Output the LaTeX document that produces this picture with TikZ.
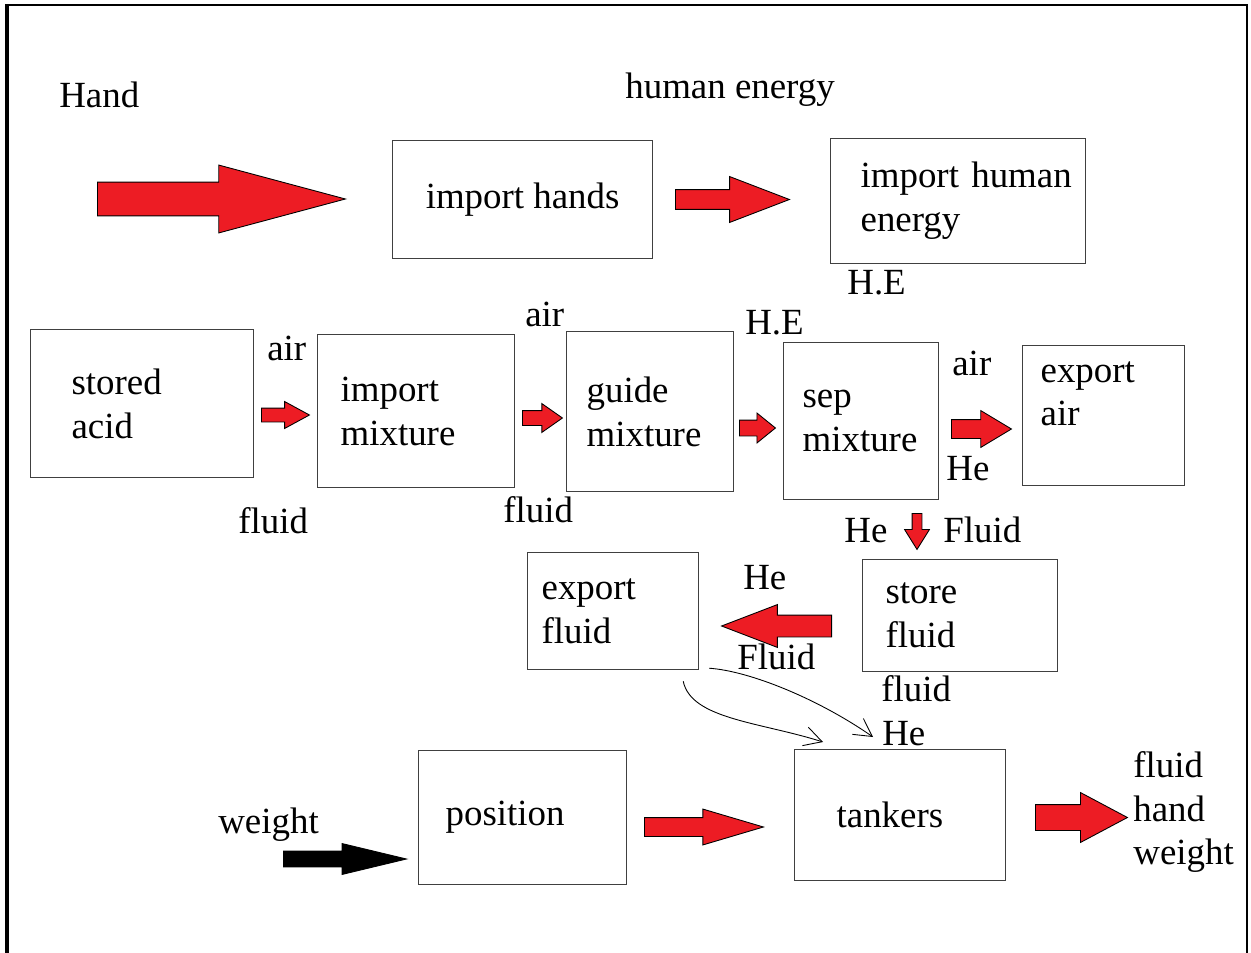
\documentclass[tikz,border=0pt]{standalone}
\usepackage{fontspec}
\setmainfont{Liberation Serif}
\usetikzlibrary{arrows.meta,shapes.arrows}
\definecolor{paintred}{RGB}{237,28,36}

\begin{document}
\begin{tikzpicture}[
  x=0.02cm, y=-0.02cm,
  font=\fontsize{21}{25}\selectfont,
  >={Straight Barb[length=10pt, width=11pt]},
  box/.style={draw=black!75, line width=0.7pt, anchor=north west, inner sep=0pt, align=left},
  lbl/.style={inner sep=0pt, anchor=base west},
  blk/.style={single arrow, draw=black, line width=0.5pt, fill=paintred, inner xsep=0pt, anchor=tail}
]
\useasboundingbox (0,0) rectangle (1251,953);
% frame
\draw[line width=0.7pt] (5,5) -- (1247,5) -- (1247,953);
\draw[line width=2.2pt] (7,5) -- (7,953);

% top row
\node[lbl] (hand) at (59,108) {Hand};
\node[lbl] (hen) at (625,99) {human energy};
\node[box, minimum width=5.2cm, minimum height=2.36cm] (hands) at (392,140) {import hands};
\node[box, minimum width=5.1cm, minimum height=2.5cm, text width=3.9cm] (humen) at (830,138) {\mbox{import human}\\energy};
\node[lbl] (he1) at (847,294) {H.E};
\node[blk, minimum height=4.96cm, inner ysep=0.33cm, single arrow head extend=0.34cm, single arrow tip angle=30] (a1) at (97,199) {};
\node[blk, minimum height=2.28cm, inner ysep=0.19cm, single arrow head extend=0.26cm, single arrow tip angle=42] (a2) at (675,199.5) {};

% mixture row
\node[box, minimum width=4.46cm, minimum height=2.96cm, text width=2.82cm] (acid) at (30,329) {stored\\acid};
\node[box, minimum width=3.94cm, minimum height=3.06cm, text width=3.02cm] (impmix) at (317,334) {import\\mixture};
\node[box, minimum width=3.34cm, minimum height=3.2cm, text width=2.54cm] (guide) at (566,331) {guide\\mixture};
\node[box, minimum width=3.1cm, minimum height=3.14cm, text width=2.34cm] (sep) at (783,342) {sep\\mixture};
\node[box, minimum width=3.24cm, minimum height=2.8cm, text width=2.52cm] (expair) at (1022,345) {export\\air\\~};
\node[blk, minimum height=0.96cm, inner ysep=0.13cm, single arrow head extend=0.13cm, single arrow tip angle=57] (a3) at (261,415) {};
\node[blk, minimum height=0.8cm, inner ysep=0.14cm, single arrow head extend=0.14cm, single arrow tip angle=70] (a4) at (522,418) {};
\node[blk, minimum height=0.72cm, inner ysep=0.15cm, single arrow head extend=0.14cm, single arrow tip angle=78] (a5) at (739,428) {};
\node[blk, minimum height=1.2cm, inner ysep=0.18cm, single arrow head extend=0.18cm, single arrow tip angle=62] (a6) at (951,429) {};
\node[lbl] (air1) at (267,360) {air};
\node[lbl] (fl1) at (238,533) {fluid};
\node[lbl] (air2) at (525,326) {air};
\node[lbl] (fl2) at (503,522) {fluid};
\node[lbl] (he2) at (745,334) {H.E};
\node[lbl] (air3) at (952,375) {air};
\node[lbl] (hel1) at (946,480) {He};

% fluid row
\node[blk, minimum height=0.72cm, inner xsep=0.09cm, inner ysep=0pt, single arrow head extend=0.15cm, single arrow tip angle=64, shape border rotate=270] (a7) at (917,513) {};
\node[lbl] (hel2) at (844,542) {He};
\node[lbl] (fl3) at (943,542) {Fluid};
\node[box, minimum width=3.9cm, minimum height=2.24cm, text width=2.98cm] (store) at (862,559) {store\\fluid};
\node[box, minimum width=3.42cm, minimum height=2.34cm, text width=2.86cm] (expfl) at (527,552) {export\\fluid};
\node[blk, minimum height=2.2cm, inner ysep=0.21cm, single arrow head extend=0.21cm, single arrow tip angle=42, shape border rotate=180] (a8) at (832,626) {};
\node[lbl] (hel3) at (743,589) {He};
\node[lbl] (fl4) at (737,669) {Fluid};
\node[lbl] (fl5) at (881,701) {fluid};
\node[lbl] (hel4) at (882,745) {He};

% bottom row
\node[box, minimum width=4.16cm, minimum height=2.68cm, text width=3.08cm] (pos) at (418,750) {position};
\node[box, minimum width=4.22cm, minimum height=2.62cm, text width=2.54cm] (tank) at (794,749) {tankers};
\node[lbl] (wt) at (218,833) {weight};
\node[blk, fill=black, minimum height=2.46cm, inner ysep=0.15cm, single arrow head extend=0.15cm, single arrow tip angle=27] (a9) at (283,859) {};
\node[blk, minimum height=2.38cm, inner ysep=0.18cm, single arrow head extend=0.17cm, single arrow tip angle=33] (a10) at (644,827) {};
\node[blk, minimum height=1.84cm, inner ysep=0.25cm, single arrow head extend=0.24cm, single arrow tip angle=56] (a11) at (1035,817.5) {};
\node[inner sep=0pt, anchor=west, align=left] (out) at (1133,812) {fluid\\hand\\weight};

\draw[->, line width=0.5pt] ([shift={(-16,11)}]expfl.south east) .. controls +(8,38) and +(-63,-20) .. ([shift={(29,-7)}]tank.north west);
\draw[->, line width=0.5pt] ([shift={(10,-2)}]expfl.south east) .. controls +(42,3) and +(-53,-37) .. ([shift={(79,-12)}]tank.north west);
\end{tikzpicture}
\end{document}
